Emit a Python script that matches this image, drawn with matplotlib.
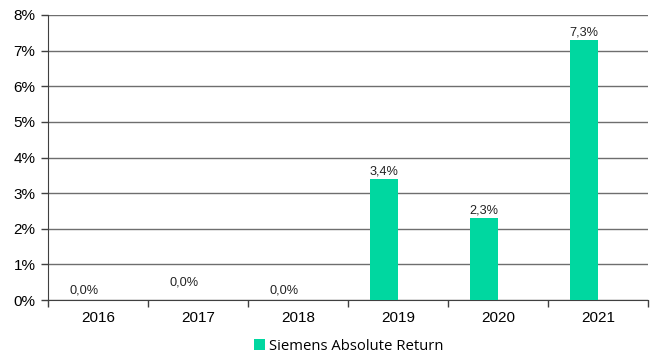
import numpy as np
import matplotlib.pyplot as plt
from matplotlib.ticker import FuncFormatter, FixedLocator

plt.rcParams['font.family'] = ['Liberation Sans', 'DejaVu Sans']

years = ['2016', '2017', '2018', '2019', '2020', '2021']
returns = [0.0, 0.0, 0.0, 3.4, 2.3, 7.3]   # in %
label_lift = [0.28, 0.48, 0.28, 0.22, 0.22, 0.22]  # label offset above bar, in %
green = '#00D7A0'

fig = plt.figure(figsize=(6.52, 3.56), dpi=100)
ax = fig.add_axes([0.0736, 0.157, 0.920, 0.801])

x = np.arange(len(years))
bw = 0.28
bars = ax.bar(x - bw / 2, returns, width=bw, color=green, label='Siemens Absolute Return', zorder=3)

for xi, v, lift in zip(x, returns, label_lift):
    ax.text(xi - bw / 2, v + lift, f'{v:.1f}%'.replace('.', ','), ha='center', va='center',
            fontsize=9.2, color='#222222', zorder=4)

ax.set_xlim(-0.5, len(years) - 0.5)
ax.set_ylim(0, 8)
ax.set_yticks(np.arange(0, 9, 1))
ax.yaxis.set_major_formatter(FuncFormatter(lambda v, p: f'{int(v)}%'))
ax.grid(axis='y', color='#6e6e6e', linewidth=1.0, zorder=0)

# category labels between boundary ticks
ax.xaxis.set_major_locator(FixedLocator(np.arange(-0.5, len(years), 1.0)))
ax.xaxis.set_major_formatter(FuncFormatter(lambda v, p: ''))
ax.set_xticks(x, minor=True)
ax.set_xticklabels(years, minor=True)
ax.tick_params(axis='x', which='minor', length=0, pad=8, labelsize=11)
ax.tick_params(axis='x', which='major', length=5, color='#404040', width=1)
ax.tick_params(axis='y', length=5, color='#404040', width=1, labelsize=11, pad=4)

for s in ['top', 'right']:
    ax.spines[s].set_visible(False)
ax.spines['left'].set_color('#404040')
ax.spines['bottom'].set_color('#404040')

fig.legend(handles=[bars], labels=['Siemens Absolute Return'], loc='center', bbox_to_anchor=(0.535, 0.028),
           frameon=False, handlelength=0.7, handleheight=0.7, handletextpad=0.3,
           prop={'family': ['Open Sans', 'DejaVu Sans'], 'size': 10.7})

fig.savefig('out.png', dpi=100)
